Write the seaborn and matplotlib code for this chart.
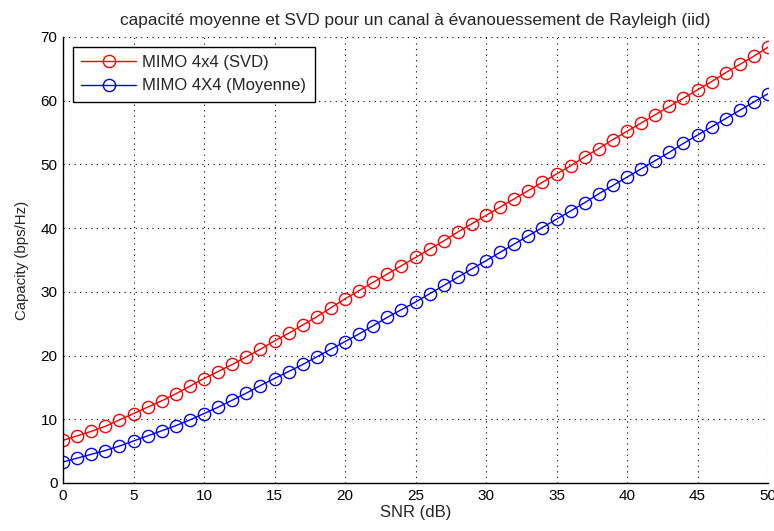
import matplotlib
matplotlib.use("Agg")
import matplotlib.pyplot as plt
import seaborn as sns
import pandas as pd
import numpy as np

snr_db = list(range(0, 51))
cap_svd = [6.7, 7.4, 8.1, 8.9, 9.9, 10.9, 11.9, 12.9, 14.0, 15.2,
           16.4, 17.5, 18.6, 19.8, 21.0, 22.3, 23.5, 24.8, 26.1, 27.5,
           28.9, 30.2, 31.5, 32.8, 34.1, 35.4, 36.7, 38.0, 39.4, 40.7,
           42.0, 43.3, 44.6, 45.9, 47.2, 48.5, 49.8, 51.2, 52.5, 53.9,
           55.2, 56.5, 57.8, 59.1, 60.4, 61.7, 63.0, 64.4, 65.7, 67.0, 68.4]
cap_mean = [3.3, 3.9, 4.5, 5.1, 5.8, 6.6, 7.4, 8.2, 9.0, 9.9,
            10.9, 11.9, 13.0, 14.1, 15.3, 16.4, 17.5, 18.6, 19.8, 21.0,
            22.2, 23.4, 24.7, 26.0, 27.2, 28.4, 29.7, 31.0, 32.3, 33.6,
            34.9, 36.2, 37.5, 38.8, 40.1, 41.4, 42.7, 44.0, 45.4, 46.7,
            48.0, 49.3, 50.6, 51.9, 53.3, 54.6, 55.9, 57.2, 58.5, 59.8, 61.1]
labels = ["MIMO 4x4 (SVD)", "MIMO 4X4 (Moyenne)"]
colors = ["#ff0000", "#0000ff"]
x_ticks = [0, 5, 10, 15, 20, 25, 30, 35, 40, 45, 50]
y_ticks = [0, 10, 20, 30, 40, 50, 60, 70]

sns.set_style("white")
plt.rcParams['font.family'] = ['Liberation Sans', 'DejaVu Sans']
plt.rcParams['font.size'] = 10

fig = plt.figure(figsize=(7.74, 5.31), dpi=100)
ax = fig.add_axes([63/774, 1-483/531, 705/774, 446/531])

for ys, lab, col in zip([cap_svd, cap_mean], labels, colors):
    sns.lineplot(x=snr_db, y=ys, ax=ax, color=col, label=lab, linewidth=1.0,
                 marker='o', markersize=8.8, markerfacecolor='none',
                 markeredgecolor=col, markeredgewidth=1.0)

ax.set_xlim(0, 50)
ax.set_ylim(0, 70)
ax.set_xticks(x_ticks)
ax.set_yticks(y_ticks)
ax.grid(True, linestyle=(0, (1, 4)), color='black', linewidth=0.8)
for s in ['top', 'right']:
    ax.spines[s].set_visible(False)
for s in ['left', 'bottom']:
    ax.spines[s].set_color('black')
    ax.spines[s].set_linewidth(1.0)
ax.tick_params(direction='in', length=5, width=1, colors='black', labelsize=11, pad=4)
ax.set_xlabel("SNR (dB)", fontsize=12, labelpad=2)
ax.set_ylabel("Capacity (bps/Hz)", fontsize=10.8, labelpad=8)
ax.set_title("capacité moyenne et SVD pour un canal à évanouessement de Rayleigh (iid)",
             fontsize=12.4, pad=9)

leg = ax.legend(loc='upper left', bbox_to_anchor=(0.0142, 0.978), borderaxespad=0,
                fancybox=False, framealpha=1, edgecolor='black', fontsize=12,
                handlelength=3.3, borderpad=0.5, labelspacing=0.5, handletextpad=0.35)
leg.get_frame().set_linewidth(1.0)

fig.savefig("out.png", dpi=100)
